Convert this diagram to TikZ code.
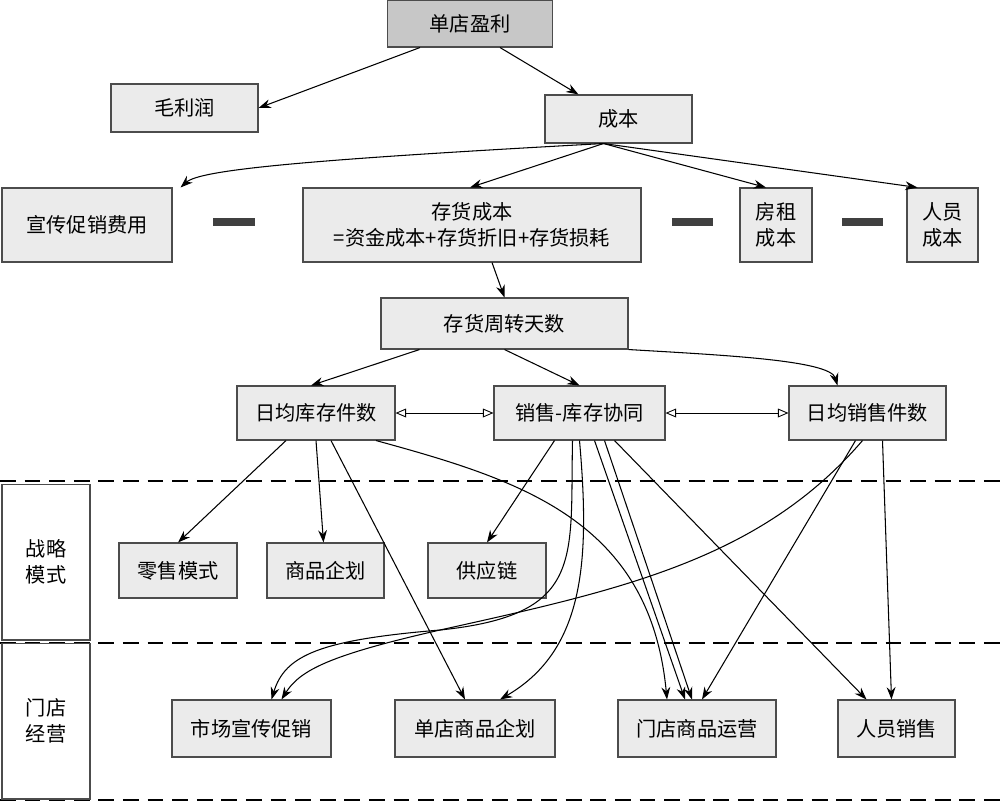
\documentclass[tikz,border=0pt]{standalone}
\usepackage{fontspec}
\setmainfont{Noto Sans CJK SC}
\usetikzlibrary{arrows.meta,calc}
\begin{document}
\begin{tikzpicture}[x=0.02cm,y=-0.02cm,
  box/.style={draw=black!70,fill=black!8,line width=0.6pt,font=\fontsize{11.5pt}{15pt}\selectfont,align=center,inner sep=0pt},
  arr/.style={-{Stealth[length=7pt,width=5pt]},line width=0.6pt},
  dbl/.style={{Triangle[open,length=6pt,width=5pt]}-{Triangle[open,length=6pt,width=5pt]},line width=0.5pt},
  bar/.style={line width=5pt,black!75},
  sep/.style={dashed,dash pattern=on 9pt off 5pt,line width=0.6pt}]
\useasboundingbox (0,0) rectangle (1000,802);
\newcommand{\bx}[6]{\node[box,minimum width={(#4-#2)*0.02cm},minimum height={(#5-#3)*0.02cm}] (#1) at ({(#2+#4)/2},{(#3+#5)/2}) {#6};}
\newcommand{\sh}[2]{($(#1)+(#2,0)$)}
\node[box,fill=black!22,minimum width=3.3cm,minimum height=0.94cm] (a) at (470,23.5) {单店盈利};
\bx{m}{111}{84}{258}{132}{毛利润}
\bx{c}{545}{95}{692}{143}{成本}
\bx{x}{2}{188}{172}{262}{宣传促销费用}
\bx{ch}{303}{188}{641}{262}{存货成本\\=资金成本+存货折旧+存货损耗}
\bx{f}{740}{188}{812}{262}{房租\\成本}
\bx{r}{907}{188}{978}{262}{人员\\成本}
\draw[bar] (213,222) -- (255,222);
\draw[bar] (672,222) -- (713,222);
\draw[bar] (842,222) -- (883,222);
\bx{t}{381}{298}{628}{349}{存货周转天数}
\bx{k}{237}{386}{395}{440}{日均库存件数}
\bx{s}{494}{386}{665}{440}{销售-库存协同}
\bx{d}{789}{386}{946}{440}{日均销售件数}
\draw[sep] (0,481) -- (1000,481);
\draw[sep] (0,643) -- (1000,643);
\draw[sep] (0,800) -- (1000,800);
\node[box,fill=white,minimum width=1.76cm,minimum height=3.12cm] (L1) at (46,562) {战略\\模式};
\node[box,fill=white,minimum width=1.76cm,minimum height=3.12cm] (L2) at (46,721) {门店\\经营};
\bx{p1}{119}{543}{237}{598}{零售模式}
\bx{p2}{267}{543}{384}{598}{商品企划}
\bx{p3}{428}{543}{546}{598}{供应链}
\bx{q1}{172}{700}{331}{757}{市场宣传促销}
\bx{q2}{395}{700}{555}{757}{单店商品企划}
\bx{q3}{618}{700}{776}{757}{门店商品运营}
\bx{q4}{838}{700}{955}{757}{人员销售}
% arrows
\draw[arr] \sh{a.south}{-50} -- \sh{m.east}{0};
\draw[arr] \sh{a.south}{30} -- \sh{c.north}{-40};
\draw[arr] \sh{c.south}{-15} .. controls (300,160) and (200,170) .. \sh{x.north east}{8};
\draw[arr] \sh{c.south}{-15} -- \sh{ch.north}{-2};
\draw[arr] \sh{c.south}{-15} -- \sh{f.north}{-10};
\draw[arr] \sh{c.south}{-15} -- \sh{r.north}{-25};
\draw[arr] \sh{ch.south}{20} -- \sh{t.north}{0};
\draw[arr] \sh{t.south}{-85} -- \sh{k.north}{-5};
\draw[arr] \sh{t.south}{0} -- \sh{s.north}{0};
\draw[arr] \sh{t.south east}{0} .. controls (720,355) and (830,360) .. \sh{d.north}{-30};
\draw[dbl] (k.east) -- (s.west);
\draw[dbl] (s.east) -- (d.west);
\draw[arr] \sh{k.south}{-30} -- \sh{p1.north}{0};
\draw[arr] \sh{k.south}{0} -- \sh{p2.north}{-2};
\draw[arr] \sh{k.south}{15} -- \sh{q2.north}{-10};
\draw[arr] \sh{k.south}{60} .. controls (520,480) and (650,520) .. \sh{q3.north}{-30};
\draw[arr] \sh{s.south}{-25} -- \sh{p3.north}{0};
\draw[arr] \sh{s.south}{-7} .. controls (570,560) and (585,615) .. (440,630) .. controls (320,640) and (285,655) .. \sh{q1.north}{20};
\draw[arr] \sh{s.south}{0} .. controls (590,560) and (585,650) .. \sh{q2.north}{25};
\draw[arr] \sh{s.south}{15} -- \sh{q3.north}{-12};
\draw[arr] \sh{s.south}{25} -- \sh{q3.north}{-5};
\draw[arr] \sh{s.south}{35} -- \sh{q4.north}{-30};
\draw[arr] \sh{d.south}{-5} .. controls (760,560) and (620,590) .. (440,630) .. controls (330,655) and (300,670) .. \sh{q1.north}{30};
\draw[arr] \sh{d.south}{-12} -- \sh{q3.north}{5};
\draw[arr] \sh{d.south}{15} -- \sh{q4.north}{-5};
\end{tikzpicture}
\end{document}
